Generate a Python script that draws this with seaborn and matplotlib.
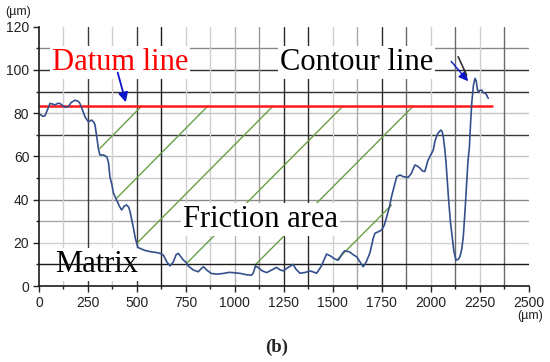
import matplotlib.pyplot as plt
import numpy as np
import pandas as pd
import seaborn as sns
from matplotlib.ticker import MultipleLocator

sns.set_theme(style="white")
plt.rcParams['font.family'] = ['Liberation Sans', 'DejaVu Sans']

# surface profile (contour line)
pos_um = [5, 20, 31, 45, 56, 70, 82, 95, 107, 120, 133, 150, 165, 184, 200, 209, 222, 235,
          252, 262, 269, 280, 286, 295, 303, 311, 330, 347, 355, 362, 372, 380, 396, 410,
          422, 435, 447, 458, 465, 481, 492, 499, 505, 516, 540, 567, 600, 618, 635, 652,
          669, 686, 700, 711, 725, 737, 750, 762, 788, 813, 830, 839, 848, 856, 880, 907,
          940, 970, 992, 1030, 1060, 1085, 1094, 1105, 1120, 1140, 1162, 1190, 1213, 1230,
          1247, 1270, 1298, 1310, 1332, 1360, 1383, 1400, 1417, 1440, 1468, 1490, 1510,
          1528, 1545, 1560, 1585, 1604, 1622, 1640, 1655, 1670, 1690, 1706, 1715, 1732,
          1749, 1762, 1775, 1790, 1800, 1813, 1826, 1843, 1860, 1885, 1900, 1919, 1932,
          1945, 1958, 1970, 1985, 1996, 2013, 2021, 2035, 2051, 2058, 2064, 2072, 2078,
          2085, 2090, 2100, 2107, 2118, 2129, 2140, 2149, 2158, 2166, 2175, 2183, 2190,
          2197, 2203, 2209, 2218, 2226, 2232, 2238, 2243, 2250, 2260, 2268, 2277, 2285,
          2290, 2294]
height_um = [79.5, 78.5, 78.8, 82, 84.5, 84.2, 83.8, 84.5, 84.5, 83.5, 82.7, 83, 85, 86,
             85.5, 84.5, 81.5, 78.3, 76, 76.5, 76.8, 75.8, 74.5, 69, 63.7, 60.6, 60.6,
             59.7, 57, 50.6, 47, 43, 39.8, 37, 35.2, 37, 37.5, 36.5, 34.4, 27.4, 22, 19.7,
             17.8, 17.4, 16.5, 15.9, 15.5, 15.1, 14.3, 11.2, 9.3, 11.2, 14.5, 15.1, 13.5,
             12, 11, 9.3, 7.4, 6.6, 8.2, 8.9, 8.2, 7.4, 5.8, 5.5, 5.8, 6.3, 6.2, 5.8, 5.2,
             5.0, 6, 9.3, 8.5, 7, 6.2, 7.5, 8.6, 7.5, 7, 8.5, 10, 8, 5.9, 6.3, 7, 6.5, 5.9,
             9, 14.8, 13.8, 12.5, 12, 14.5, 16.3, 15.8, 14.5, 13.5, 11, 8.9, 11, 15.5, 22,
             24.4, 25.1, 25.9, 28, 32, 37, 41.5, 46, 50.6, 51.4, 50.6, 50.3, 52, 56, 55.5,
             54.5, 53.2, 53, 58, 60, 63, 67, 70.5, 72.2, 71.5, 69, 63, 57, 48, 41.3, 30,
             24.4, 16, 12, 12.3, 13.6, 17, 22.8, 35, 47.5, 58, 64, 75, 84.5, 93, 96.1, 95,
             91, 89.8, 90.5, 90.7, 89.5, 89.2, 88.5, 87.3, 86.9]

datum_level = 83.3
datum_end = 2311

# friction-area hatching: start (x, y) and end (x, y)
hatch_x0 = [311, 396, 499, 754, 1103, 1520]
hatch_y0 = [63.7, 40.6, 19.7, 10.5, 9.7, 12.0]
hatch_x1 = [524, 862, 1195, 1552, 1911, 1800]
hatch_y1 = [83.3, 83.3, 83.3, 83.3, 83.3, 37.5]

x_ticks = list(range(0, 2501, 250))
y_ticks = list(range(0, 121, 20))

# background grid (irregular shading as in the source figure)
hgrid = [10, 20, 30, 40, 50, 60, 70, 80, 90, 100, 110]
hgrid_col = ['#1a1a1a', '#cfcfcf', '#a8a8a8', '#8a8a8a', '#cfcfcf', '#c4c4c4',
             '#3a3a3a', '#c4c4c4', '#303030', '#303030', '#8a8a8a']
vgrid = [125, 250, 375, 500, 625, 750, 875, 1000, 1125, 1250, 1375, 1500, 1625, 1750,
         1875, 2000, 2125, 2250, 2375]
vgrid_col = ['#cfcfcf', '#3a3a3a', '#cfcfcf', '#3a3a3a', '#1a1a1a', '#cfcfcf', '#cfcfcf',
             '#b5b5b5', '#999999', '#2a2a2a', '#2a2a2a', '#cfcfcf', '#a8a8a8', '#2a2a2a',
             '#6a6a6a', '#cfcfcf', '#6a6a6a', '#cfcfcf', '#6a6a6a']

profile = pd.DataFrame({'x': pos_um, 'y': height_um})

fig = plt.figure(figsize=(5.5, 3.62), dpi=100)
ax = fig.add_axes([0.0709, 0.2099, 0.8904, 0.7163])

for yv, c in zip(hgrid, hgrid_col):
    ax.axhline(yv, color=c, lw=1.0, zorder=0.5 if yv != 10 else 3.5)
for xv, c in zip(vgrid, vgrid_col):
    ax.axvline(xv, color=c, lw=1.0, zorder=0.5)

for x0, y0, x1, y1 in zip(hatch_x0, hatch_y0, hatch_x1, hatch_y1):
    ax.plot([x0, x1], [y0, y1], color='#6a9e45', lw=1.0, zorder=1)

ax.plot([0, datum_end], [datum_level, datum_level], color='#ff1a1a', lw=1.8, zorder=2.5)

sns.lineplot(data=profile, x='x', y='y', sort=False, estimator=None, ax=ax,
             color='#34508c', lw=1.2, zorder=4)

serif = ['Liberation Serif', 'DejaVu Serif']
box = dict(facecolor='white', edgecolor='none', pad=1.5)
ax.text(66, 100, 'Datum line', family=serif, fontsize=22, color='#ff0000',
        ha='left', va='baseline', bbox=box, zorder=3)
ax.text(1230, 100, 'Contour line', family=serif, fontsize=22, color='black',
        ha='left', va='baseline', bbox=box, zorder=3)
ax.text(735, 27.4, 'Friction area', family=serif, fontsize=22, color='black',
        ha='left', va='baseline', bbox=box, zorder=3)
ax.text(82, 6.6, 'Matrix', family=serif, fontsize=22, color='black',
        ha='left', va='baseline', bbox=box, zorder=3)

ax.annotate('', xy=(447, 83.8), xytext=(398, 100),
            arrowprops=dict(arrowstyle='-|>', color='#0a14c8', lw=1.3,
                            mutation_scale=14), zorder=5)
ax.annotate('', xy=(2200, 93.8), xytext=(2095, 104.9),
            arrowprops=dict(arrowstyle='-|>', color='#0a14c8', lw=1.0,
                            mutation_scale=14), zorder=5)
ax.plot([2140, 2183], [106.1, 97.6], color='#333333', lw=1.2, zorder=5)

ax.set_xlim(0, 2500)
ax.set_ylim(0, 120)
ax.set_xticks(x_ticks)
ax.set_yticks(y_ticks)
ax.xaxis.set_minor_locator(MultipleLocator(125))
ax.yaxis.set_minor_locator(MultipleLocator(10))
ax.tick_params(which='major', direction='out', length=4, width=1, color='#222222',
               labelsize=10, labelcolor='#222222', bottom=True, left=True, pad=3)
ax.tick_params(which='minor', direction='out', length=2.5, width=1, color='#222222',
               bottom=True, left=True)
ax.set_xlabel('')
ax.set_ylabel('')
for side in ['top', 'right']:
    ax.spines[side].set_visible(False)
for side in ['left', 'bottom']:
    ax.spines[side].set_color('#1a1a1a')
    ax.spines[side].set_linewidth(1.2)
    ax.spines[side].set_zorder(6)

fig.text(18 / 550, 1 - 12 / 362, '(\u00b5m)', fontsize=9, color='#222222',
         ha='center', va='center')
fig.text(530 / 550, 1 - 316 / 362, '(\u00b5m)', fontsize=9, color='#222222',
         ha='center', va='center')
fig.text(277 / 550, 1 - 347 / 362, '(b)', family=serif, fontsize=13.5,
         fontweight='bold', ha='center', va='center')

plt.savefig('out.png', dpi=100)
